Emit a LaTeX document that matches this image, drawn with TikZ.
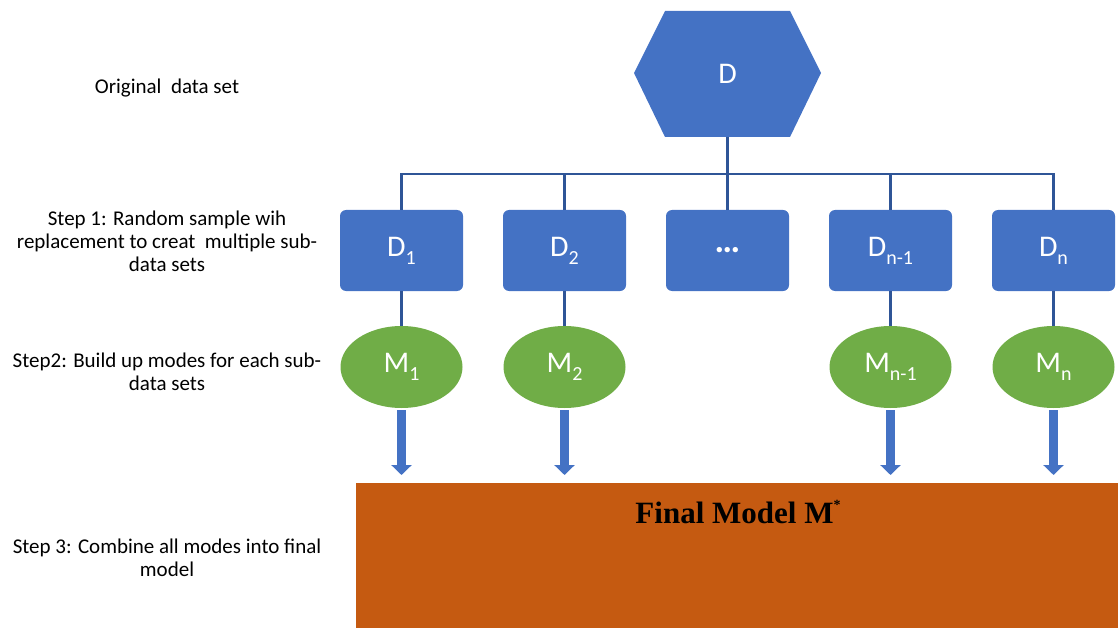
\documentclass[tikz,border=0pt]{standalone}
\usepackage{fontspec}
\setmainfont{Carlito}
\newfontfamily\serifbold{Liberation Serif}
\usetikzlibrary{arrows.meta,shapes.geometric}

\definecolor{boxblue}{HTML}{4472C4}
\definecolor{linkblue}{HTML}{2F5597}
\definecolor{modgreen}{HTML}{70AD47}
\definecolor{finorange}{HTML}{C55A11}

% subscript in the node labels
\newcommand{\lsub}[1]{\raisebox{-0.27em}{\fontsize{20}{20}\selectfont #1}}

\tikzset{
  steplabel/.style={align=center, font=\fontsize{21}{23}\selectfont, text=black},
  databox/.style={fill=boxblue, draw=none, rounded corners=6pt,
    minimum width=123pt, minimum height=81pt, inner sep=0pt,
    text=white, font=\fontsize{30}{30}\selectfont},
  modelnode/.style={ellipse, fill=modgreen, draw=none,
    minimum width=122pt, minimum height=82pt, inner sep=0pt,
    text=white, font=\fontsize{30}{30}\selectfont},
  link/.style={draw=linkblue, line width=2.5pt},
  blockarrow/.style={draw=boxblue, line width=9pt,
    -{Triangle[width=20pt, length=10pt]}},
}

\begin{document}
\begin{tikzpicture}[x=1pt, y=-1pt]
\useasboundingbox (0,0) rectangle (1118,628);

% original data set (hexagon)
\fill[boxblue] (634,73) -- (665,11) -- (790,11) -- (821,73) -- (790,137) -- (665,137) -- cycle;
\node[text=white, font=\fontsize{30}{30}\selectfont] (d) at (727.5,74) {D};
\coordinate (dbot) at (727.5,137);
\coordinate (bus) at (727.5,174);

% sub-data sets
\node[databox] (d1) at (401.5,250.5) {D\lsub{1}};
\node[databox] (d2) at (564.5,250.5) {D\lsub{2}};
\node[databox, font=\fontsize{36}{36}\selectfont] (dd) at (727.5,250.5) {\textbf{\char"2026}};
\node[databox] (dn1) at (890.5,250.5) {D\lsub{n-1}};
\node[databox] (dn) at (1053.5,250.5) {D\lsub{n}};

% models
\node[modelnode] (m1) at (401.5,367) {M\lsub{1}};
\node[modelnode] (m2) at (564.5,367) {M\lsub{2}};
\node[modelnode] (mn1) at (890.5,367) {M\lsub{n-1}};
\node[modelnode] (mn) at (1053.5,367) {M\lsub{n}};

% final model
\fill[finorange] (356,483) rectangle (1118,628);
\node[anchor=base, font=\serifbold\bfseries\fontsize{31}{31}\selectfont] (fin) at (738,523)
  {Final Model M\raisebox{0.42em}{\fontsize{14}{14}\selectfont *}};
\coordinate (fintop) at (738,483);

% tree connectors
\draw[link] (dbot) -- (bus);
\draw[link] (d1.north) |- (bus) -| (dn.north);
\draw[link] (d2.north) -- (d2.north |- bus);
\draw[link] (dd.north) -- (bus);
\draw[link] (dn1.north) -- (dn1.north |- bus);
\foreach \a/\b in {d1/m1, d2/m2, dn1/mn1, dn/mn}
  \draw[link] (\a.south) -- (\b.north);

% block arrows to the final model
\foreach \m in {m1, m2, mn1, mn}
  \draw[blockarrow] ([yshift=-2pt]\m.south) -- ([yshift=8pt]\m.south |- fintop);

% step labels
\node[steplabel] (s0) at (167,88) {Original\ \ data set};
\node[steplabel] (s1) at (167,241) {Step 1: Random sample wih\\replacement to creat\ \ multiple sub-\\data sets};
\node[steplabel] (s2) at (167,372) {Step2: Build up modes for each sub-\\data sets};
\node[steplabel] (s3) at (167,558) {Step 3: Combine all modes into final\\model};
\end{tikzpicture}
\end{document}
